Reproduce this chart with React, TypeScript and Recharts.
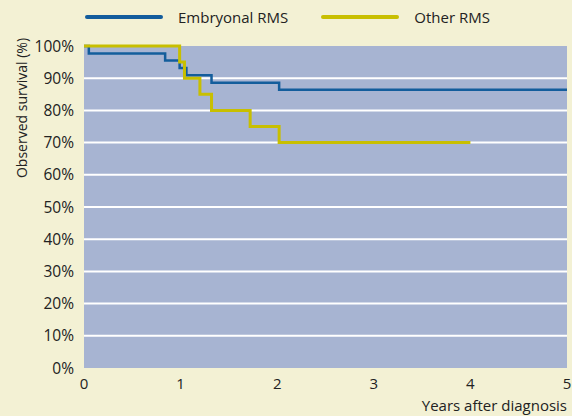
import { LineChart, Line, XAxis, YAxis, CartesianGrid, Legend, Label } from 'recharts'

const years = [0, 1, 2, 3, 4, 5]
const percentTicks = [0, 10, 20, 30, 40, 50, 60, 70, 80, 90, 100]
const gridValues = [10, 20, 30, 40, 50, 60, 70, 80, 90]

// Kaplan-Meier step points
const embryonalYears = [0, 0.05, 0.84, 0.99, 1.06, 1.32, 2.02, 5]
const embryonalSurvival = [100, 97.7, 95.5, 93.2, 90.9, 88.6, 86.4, 86.4]

const otherYears = [0, 0.99, 1.04, 1.2, 1.32, 1.72, 2.02, 4]
const otherSurvival = [100, 95, 90, 85, 80, 75, 70, 70]

const BLUE = '#135d9c'
const YELLOW = '#c8bf00'
const CREAM = '#f3f1d4'
const PLOT = '#a7b4d2'
const TEXT = '#222'
const FONT = '"Open Sans", sans-serif'

const embryonal = embryonalYears.map((t, i) => ({ t, s: embryonalSurvival[i] }))
const other = otherYears.map((t, i) => ({ t, s: otherSurvival[i] }))

function LegendBox() {
  const item = (color: string, label: string, gap: number) => (
    <div style={{ display: 'flex', alignItems: 'center', marginLeft: gap }}>
      <div style={{ width: 78, height: 4, borderRadius: 2, background: color }} />
      <span style={{ marginLeft: 15, fontSize: 15, color: TEXT }}>{label}</span>
    </div>
  )
  return (
    <div style={{ height: 46, display: 'flex', alignItems: 'flex-start', fontFamily: FONT }}>
      <div style={{ display: 'flex', marginTop: 7 }}>
        {item(BLUE, 'Embryonal RMS', 85)}
        {item(YELLOW, 'Other RMS', 33)}
      </div>
    </div>
  )
}

function YLabel(props: any) {
  const { viewBox } = props
  const x = 21
  const y = viewBox.y + 62
  return (
    <text x={x} y={y} transform={`rotate(-90, ${x}, ${y})`} textAnchor="middle" dominantBaseline="central"
      fontSize={14} fill={TEXT} fontFamily={FONT}>
      Observed survival (%)
    </text>
  )
}

export default function App() {
  return (
    <div style={{ position: 'absolute', left: 0, top: 0, width: 572, height: 416, background: CREAM }}>
      <LineChart width={572} height={416} margin={{ top: 0, right: 5, bottom: 0, left: 0 }}>
        <CartesianGrid fill={PLOT} vertical={false} horizontalValues={gridValues} stroke="#ffffff" strokeWidth={2} />
        <XAxis dataKey="t" type="number" domain={[0, 5]} ticks={years} axisLine={false} tickLine={false}
          height={48} tick={{ fontSize: 15, fill: TEXT, fontFamily: FONT }} tickMargin={4} allowDataOverflow>
          <Label value="Years after diagnosis" position="insideBottomRight" offset={0} dy={-5}
            style={{ fontSize: 15, fill: TEXT, fontFamily: FONT }} />
        </XAxis>
        <YAxis type="number" domain={[0, 100]} ticks={percentTicks} width={84} axisLine={false} tickLine={false}
          tickFormatter={(v) => `${v}%`} tick={{ fontSize: 15.5, fill: TEXT, fontFamily: FONT }} tickMargin={4}>
          <Label content={<YLabel />} />
        </YAxis>
        <Legend verticalAlign="top" align="left" content={<LegendBox />} />
        <Line data={embryonal} dataKey="s" type="stepAfter" stroke={BLUE} strokeWidth={2.5} dot={false}
          isAnimationActive={false} name="Embryonal RMS" />
        <Line data={other} dataKey="s" type="stepAfter" stroke={YELLOW} strokeWidth={3} dot={false}
          isAnimationActive={false} name="Other RMS" />
      </LineChart>
    </div>
  )
}
